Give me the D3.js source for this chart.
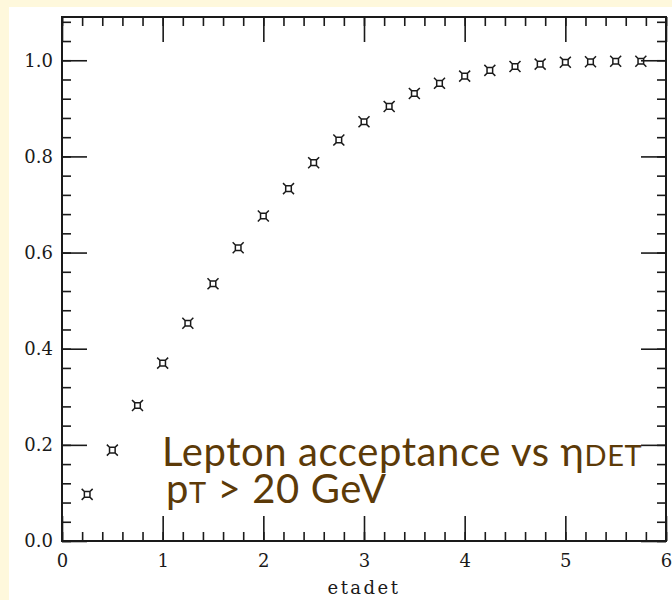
<!DOCTYPE html>
<html>
<head>
<meta charset="utf-8">
<script src="https://cdn.jsdelivr.net/npm/d3@7"></script>
<style>
  body { margin: 0; background: #fef8dc; }
  svg { display: block; }
</style>
</head>
<body>
<svg id="my_svg"></svg>
<script>
const width = 672;
const height = 600;

// data
const etaBins = [0.25, 0.5, 0.75, 1.0, 1.25, 1.5, 1.75, 2.0, 2.25, 2.5, 2.75, 3.0,
                 3.25, 3.5, 3.75, 4.0, 4.25, 4.5, 4.75, 5.0, 5.25, 5.5, 5.75];
const acceptance = [0.097, 0.189, 0.282, 0.370, 0.453, 0.535, 0.610, 0.676, 0.733, 0.787, 0.834, 0.872,
                    0.904, 0.931, 0.952, 0.967, 0.979, 0.987, 0.992, 0.996, 0.997, 0.998, 0.998];
const xMajor = [0, 1, 2, 3, 4, 5, 6];
const yMajor = [0, 0.2, 0.4, 0.6, 0.8, 1.0];
const xMinor = d3.range(0, 31).map(i => i * 0.2);
const yMinor = d3.range(0, 28).map(i => +(i * 0.04).toFixed(2));

const svg = d3.select('#my_svg')
    .attr('width', width)
    .attr('height', height);

// white page area, cream border shows on left and top
svg.append('rect')
    .attr('x', 9)
    .attr('y', 7)
    .attr('width', width - 9)
    .attr('height', height - 7)
    .attr('fill', '#fff');

const x = d3.scaleLinear().domain([0, 6]).range([62, 666]);
const y = d3.scaleLinear().domain([0, 1.09]).range([541, 17]);

const ink = '#1a1a1a';
const labelFont = '"DejaVu Serif", serif';

function styleAxis(g) {
    g.select('.domain').remove();
    g.selectAll('line').attr('stroke', ink).attr('stroke-width', 1.6);
    g.selectAll('text')
        .attr('fill', ink)
        .attr('font-family', labelFont)
        .attr('font-size', 18);
}

// minor ticks
svg.append('g').attr('transform', `translate(0,${y(0)})`)
    .call(d3.axisBottom(x).tickValues(xMinor).tickSize(-9).tickFormat(''))
    .call(styleAxis);
svg.append('g').attr('transform', `translate(0,${y(1.09)})`)
    .call(d3.axisTop(x).tickValues(xMinor).tickSize(-9).tickFormat(''))
    .call(styleAxis);
svg.append('g').attr('transform', `translate(${x(0)},0)`)
    .call(d3.axisLeft(y).tickValues(yMinor).tickSize(-9).tickFormat(''))
    .call(styleAxis);
svg.append('g').attr('transform', `translate(${x(6)},0)`)
    .call(d3.axisRight(y).tickValues(yMinor).tickSize(-9).tickFormat(''))
    .call(styleAxis);

// major ticks + labels
svg.append('g').attr('transform', `translate(0,${y(0)})`)
    .call(d3.axisBottom(x).tickValues(xMajor).tickSize(-25).tickPadding(13).tickFormat(d3.format('d')))
    .call(styleAxis);
svg.append('g').attr('transform', `translate(0,${y(1.09)})`)
    .call(d3.axisTop(x).tickValues(xMajor).tickSize(-25).tickFormat(''))
    .call(styleAxis);
svg.append('g').attr('transform', `translate(${x(0)},0)`)
    .call(d3.axisLeft(y).tickValues(yMajor).tickSize(-25).tickPadding(9).tickFormat(d3.format('.1f')))
    .call(styleAxis);
svg.append('g').attr('transform', `translate(${x(6)},0)`)
    .call(d3.axisRight(y).tickValues(yMajor).tickSize(-25).tickFormat(''))
    .call(styleAxis);

// frame
svg.append('rect')
    .attr('x', x(0))
    .attr('y', y(1.09))
    .attr('width', x(6) - x(0))
    .attr('height', y(0) - y(1.09))
    .attr('fill', 'none')
    .attr('stroke', ink)
    .attr('stroke-width', 2);

// axis title
svg.append('text')
    .attr('x', 364)
    .attr('y', 594)
    .attr('text-anchor', 'middle')
    .attr('font-family', labelFont)
    .attr('font-size', 18)
    .attr('letter-spacing', 2.5)
    .attr('fill', ink)
    .text('etadet');

// markers: small square with corner whiskers
const s = 2.8, w = 5.5;
const markerPath = `M${-s},${-s}h${2 * s}v${2 * s}h${-2 * s}Z` +
    `M${-s},${-s}L${-w},${-w}M${s},${-s}L${w},${-w}` +
    `M${s},${s}L${w},${w}M${-s},${s}L${-w},${w}`;

svg.append('g')
    .selectAll('path')
    .data(etaBins.map((e, i) => ({eta: e, acc: acceptance[i]})))
    .enter().append('path')
    .attr('transform', d => `translate(${x(d.eta)},${y(d.acc)})`)
    .attr('d', markerPath)
    .attr('fill', 'none')
    .attr('stroke', ink)
    .attr('stroke-width', 1.5);

// annotation
const brown = '#5c3a08';
const note = svg.append('g')
    .attr('font-family', 'Lato, "Open Sans", sans-serif')
    .attr('fill', brown);

const line1 = note.append('text')
    .attr('x', 162)
    .attr('y', 466)
    .attr('font-size', 40)
    .attr('letter-spacing', 0.6);
line1.append('tspan').text('Lepton acceptance vs η');
line1.append('tspan').attr('font-size', 29).text('DET');

const line2 = note.append('text')
    .attr('x', 166)
    .attr('y', 503)
    .attr('font-size', 40)
    .attr('letter-spacing', 0.6);
line2.append('tspan').text('p');
line2.append('tspan').attr('font-size', 29).text('T');
line2.append('tspan').text(' > 20 GeV');
</script>
</body>
</html>
